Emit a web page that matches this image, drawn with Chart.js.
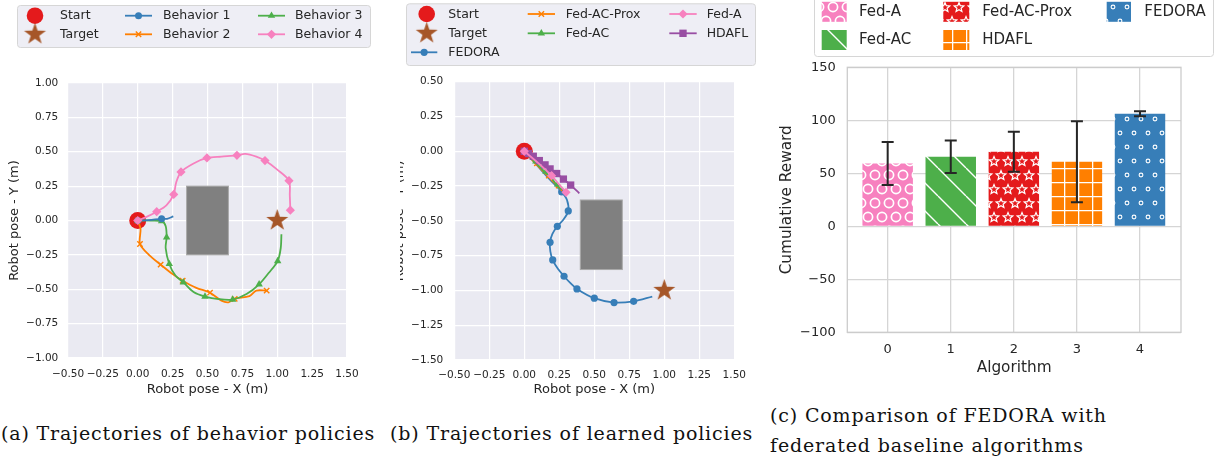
<!DOCTYPE html>
<html lang="en">
<head>
<meta charset="UTF-8">
<title>FEDORA - trajectories and cumulative reward</title>
<script src="https://cdn.jsdelivr.net/npm/chart.js"></script>
<style>
    body {
        margin: 0;
        background: #fff;
        width: 1215px;
        height: 457px;
        position: relative;
        overflow: hidden;
    }
    .panel { position: absolute; top: 0; }
    .caption {
        position: absolute;
        font-family: "DejaVu Serif", serif;
        font-size: 19px;
        line-height: 30px;
        letter-spacing: 0.85px;
        color: #111;
        white-space: nowrap;
    }
</style>
</head>
<body>

<div class="panel" style="left:0"><canvas id="chartA" width="380" height="400"></canvas></div>
<div class="panel" style="left:400px"><canvas id="chartB" width="370" height="400"></canvas></div>
<div class="panel" style="left:770px"><canvas id="chartC" width="445" height="400"></canvas></div>

<div class="caption" style="left:1px; top:418px">(a) Trajectories of behavior policies</div>
<div class="caption" style="left:390px; top:418px">(b) Trajectories of learned policies</div>
<div class="caption" style="left:770px; top:400px">(c) Comparison of FEDORA with<br>federated baseline algorithms</div>

<script>
    // ---- (a) behaviour policies: [x, y, hasMarker] ----
    const startPos = [0, 0];
    const targetA = [1, 0];
    const obstacleA = [0.35, 0.65, -0.25, 0.25];   // x0, x1, y0, y1
    const behavior1 = [[0, 0, 1], [0.08, 0.003, 0], [0.171, 0.012, 1], [0.21, 0.012, 0], [0.255, 0.03, 0]];
    const behavior2 = [[0, 0, 1], [0.02, -0.06, 0], [0.016, -0.171, 1], [0.08, -0.25, 0], [0.164, -0.321, 1],
        [0.25, -0.39, 0], [0.322, -0.438, 1], [0.42, -0.49, 0], [0.518, -0.525, 1], [0.6, -0.583, 0],
        [0.65, -0.595, 0], [0.695, -0.57, 1], [0.8, -0.55, 0], [0.85, -0.51, 0], [0.924, -0.51, 1]];
    const behavior3 = [[0, 0, 1], [0.09, 0, 0], [0.171, -0.005, 1], [0.2, -0.04, 0], [0.207, -0.122, 1],
        [0.2, -0.2, 0], [0.226, -0.316, 1], [0.27, -0.4, 0], [0.327, -0.45, 1], [0.4, -0.52, 0],
        [0.482, -0.553, 1], [0.58, -0.572, 0], [0.68, -0.575, 1], [0.78, -0.535, 0], [0.87, -0.464, 1],
        [0.94, -0.38, 0], [1.003, -0.295, 1], [1.025, -0.2, 0], [1.03, -0.1, 0]];
    const behavior4 = [[0, 0, 1], [0.07, 0.03, 0], [0.136, 0.064, 1], [0.205, 0.11, 0], [0.258, 0.19, 1],
        [0.275, 0.275, 0], [0.31, 0.353, 1], [0.4, 0.415, 0], [0.496, 0.455, 1], [0.6, 0.465, 0],
        [0.711, 0.474, 1], [0.77, 0.485, 0], [0.85, 0.465, 0], [0.912, 0.436, 1], [1.0, 0.37, 0],
        [1.084, 0.29, 1], [1.09, 0.18, 0], [1.094, 0.075, 1]];

    // ---- (b) learned policies ----
    const targetB = [1, -1];
    const obstacleB = [0.4, 0.7, -0.85, -0.35];
    const fedora = [[0, 0, 1], [0.09, -0.1, 0], [0.18, -0.2, 0], [0.267, -0.292, 1], [0.305, -0.35, 0],
        [0.314, -0.429, 1], [0.28, -0.49, 0], [0.236, -0.539, 1], [0.2, -0.595, 0], [0.184, -0.654, 1],
        [0.186, -0.72, 0], [0.203, -0.781, 1], [0.24, -0.845, 0], [0.284, -0.898, 1], [0.33, -0.948, 0],
        [0.376, -0.989, 1], [0.5, -1.056, 1], [0.641, -1.087, 1], [0.781, -1.078, 1], [0.914, -1.044, 0]];
    const fedACProx = [[0, 0, 1], [0.085, -0.092, 1], [0.17, -0.18, 1], [0.24, -0.252, 1], [0.27, -0.285, 0]];
    const fedAC = [[0, 0, 1], [0.076, -0.077, 1], [0.148, -0.15, 1], [0.2, -0.2, 0], [0.231, -0.242, 1], [0.265, -0.275, 0]];
    const fedA = [[0, 0, 1], [0.1, -0.085, 0], [0.195, -0.175, 1], [0.25, -0.24, 0], [0.298, -0.295, 1]];
    const hdafl = [[0, 0, 1], [0.03, -0.016, 1], [0.064, -0.036, 1], [0.107, -0.067, 1], [0.148, -0.098, 1],
        [0.184, -0.127, 1], [0.231, -0.16, 1], [0.279, -0.2, 1], [0.331, -0.243, 1], [0.393, -0.302, 0]];

    // ---- (c) cumulative reward ----
    const algorithms = ['Fed-A', 'Fed-AC', 'Fed-AC-Prox', 'HDAFL', 'FEDORA'];
    const algoIndex = [0, 1, 2, 3, 4];
    const rewardMean = [59.2, 65.6, 70.3, 61.0, 106.2];
    const rewardErr = [20.3, 15.4, 18.9, 38.2, 2.4];

    const RED = '#e41a1c', BLUE = '#377eb8', GREEN = '#4daf4a', PURPLE = '#984ea3',
          ORANGE = '#ff7f00', PINK = '#f781bf', BROWN = '#a65628', TEXT = '#262626';
    const FONT = '"DejaVu Sans", sans-serif';

    Chart.defaults.font.family = FONT;
    Chart.defaults.color = TEXT;

    // filled five-point star, used as a point style
    function starPath(g, x, y, r, inner) {
        g.beginPath();
        for (let i = 0; i < 10; i++) {
            const a = -Math.PI / 2 + i * Math.PI / 5;
            const rr = i % 2 ? inner : r;
            g.lineTo(x + rr * Math.cos(a), y + rr * Math.sin(a));
        }
        g.closePath();
    }
    function starImage(r, color) {
        const c = document.createElement('canvas');
        c.width = c.height = Math.ceil(2 * r + 2);
        const g = c.getContext('2d');
        g.fillStyle = color;
        starPath(g, c.width / 2, c.height / 2, r, r * 0.39);
        g.fill();
        return c;
    }
    const STAR = starImage(11.5, BROWN);

    function drawMarker(ctx, style, x, y, r, color) {
        ctx.save();
        ctx.fillStyle = color;
        ctx.strokeStyle = color;
        ctx.beginPath();
        if (style === 'circle') {
            ctx.arc(x, y, r, 0, Math.PI * 2);
            ctx.fill();
        } else if (style === 'rectRot') {
            ctx.moveTo(x, y - r); ctx.lineTo(x + r, y); ctx.lineTo(x, y + r); ctx.lineTo(x - r, y);
            ctx.closePath(); ctx.fill();
        } else if (style === 'rect') {
            const s = r * Math.SQRT1_2;
            ctx.rect(x - s, y - s, 2 * s, 2 * s); ctx.fill();
        } else if (style === 'triangle') {
            for (let i = 0; i < 3; i++) {
                const a = -Math.PI / 2 + i * 2 * Math.PI / 3;
                ctx.lineTo(x + r * Math.cos(a), y + r * Math.sin(a));
            }
            ctx.closePath(); ctx.fill();
        } else if (style === 'crossRot') {
            const s = r * Math.SQRT1_2;
            ctx.lineWidth = 1.4;
            ctx.moveTo(x - s, y - s); ctx.lineTo(x + s, y + s);
            ctx.moveTo(x + s, y - s); ctx.lineTo(x - s, y + s);
            ctx.stroke();
        } else if (style instanceof HTMLCanvasElement) {
            ctx.drawImage(style, x - style.width / 2, y - style.height / 2);
        }
        ctx.restore();
    }

    // hatch patterns for the bars
    function hatch(color, kind) {
        const u = 14;
        const c = document.createElement('canvas');
        const g = c.getContext('2d');
        c.width = kind === 'diag' ? 2 * u : u;
        c.height = kind === 'grid' ? u : 2 * u;
        g.fillStyle = color;
        g.fillRect(0, 0, c.width, c.height);
        g.strokeStyle = '#fff';
        const spots = [[u / 2, u / 2], [0, 1.5 * u], [u, 1.5 * u]];
        if (kind === 'circles' || kind === 'dots') {
            g.lineWidth = kind === 'circles' ? 1.7 : 1.1;
            spots.forEach(([x, y]) => { g.beginPath(); g.arc(x, y, kind === 'circles' ? 4.6 : 1.9, 0, Math.PI * 2); g.stroke(); });
        } else if (kind === 'stars') {
            g.lineWidth = 1.2;
            spots.forEach(([x, y]) => { starPath(g, x, y + 0.5, 5, 2.2); g.stroke(); });
        } else if (kind === 'grid') {
            g.lineWidth = 1.6;
            g.beginPath(); g.moveTo(0.5, 0); g.lineTo(0.5, u); g.moveTo(0, 0.5); g.lineTo(u, 0.5); g.stroke();
        } else if (kind === 'diag') {
            g.lineWidth = 1.4;
            g.beginPath();
            [-2 * u, 0, 2 * u].forEach(k => { g.moveTo(k, 0); g.lineTo(k + 2 * u, 2 * u); });
            g.stroke();
        }
        return g.createPattern(c, 'repeat');
    }
    const barFills = [hatch(PINK, 'circles'), hatch(GREEN, 'diag'), hatch(RED, 'stars'), hatch(ORANGE, 'grid'), hatch(BLUE, 'dots')];

    // ---- plugins ----
    const panelBg = {
        id: 'panelBg',
        beforeDraw(chart, args, o) {
            if (!o.color) return;
            const a = chart.chartArea, ctx = chart.ctx;
            ctx.save();
            ctx.fillStyle = o.color;
            ctx.fillRect(a.left, a.top, a.right - a.left, a.bottom - a.top);
            ctx.restore();
        }
    };

    const obstacle = {
        id: 'obstacle',
        beforeDatasetsDraw(chart, args, o) {
            if (!o.rect) return;
            const {x, y} = chart.scales, ctx = chart.ctx;
            const x0 = x.getPixelForValue(o.rect[0]), x1 = x.getPixelForValue(o.rect[1]);
            const y0 = y.getPixelForValue(o.rect[2]), y1 = y.getPixelForValue(o.rect[3]);
            ctx.save();
            ctx.fillStyle = '#808080';
            ctx.strokeStyle = '#a9a9a9';
            ctx.lineWidth = 1;
            ctx.fillRect(x0, y1, x1 - x0, y0 - y1);
            ctx.strokeRect(x0, y1, x1 - x0, y0 - y1);
            ctx.restore();
        }
    };

    const frame = {
        id: 'frame',
        beforeDatasetsDraw(chart, args, o) {
            if (!o.color) return;
            const a = chart.chartArea, ctx = chart.ctx;
            ctx.save();
            ctx.strokeStyle = o.color;
            ctx.lineWidth = 1.3;
            ctx.strokeRect(a.left, a.top, a.right - a.left, a.bottom - a.top);
            ctx.restore();
        }
    };

    const errorBars = {
        id: 'errorBars',
        afterDatasetsDraw(chart) {
            const {x, y} = chart.scales, ctx = chart.ctx;
            ctx.save();
            ctx.strokeStyle = '#262626';
            ctx.lineWidth = 2;
            algoIndex.forEach((i) => {
                const px = x.getPixelForValue(i);
                const top = y.getPixelForValue(rewardMean[i] + rewardErr[i]);
                const bot = y.getPixelForValue(rewardMean[i] - rewardErr[i]);
                ctx.beginPath();
                ctx.moveTo(px, top); ctx.lineTo(px, bot);
                ctx.moveTo(px - 6, top); ctx.lineTo(px + 6, top);
                ctx.moveTo(px - 6, bot); ctx.lineTo(px + 6, bot);
                ctx.stroke();
            });
            ctx.restore();
        }
    };

    // matplotlib-looking legend box
    const mplLegend = {
        id: 'mplLegend',
        afterDraw(chart, args, o) {
            if (!o.box) return;
            const ctx = chart.ctx, b = o.box;
            ctx.save();
            ctx.beginPath();
            ctx.roundRect(b[0] + 0.5, b[1] + 0.5, b[2], b[3], 3);
            ctx.fillStyle = o.bg;
            ctx.fill();
            ctx.strokeStyle = o.edge;
            ctx.lineWidth = 1;
            ctx.stroke();
            ctx.font = o.fontSize + 'px ' + FONT;
            ctx.textBaseline = 'middle';
            o.items.forEach(it => {
                if (it.line) {
                    ctx.strokeStyle = it.color;
                    ctx.lineWidth = 1.8;
                    ctx.beginPath();
                    ctx.moveTo(it.line[0], it.y); ctx.lineTo(it.line[1], it.y);
                    ctx.stroke();
                    drawMarker(ctx, it.style, (it.line[0] + it.line[1]) / 2, it.y, it.r, it.color);
                } else if (it.patch) {
                    ctx.fillStyle = it.patch;
                    ctx.fillRect(it.hx, it.y - 10, it.hw, 20);
                } else {
                    drawMarker(ctx, it.style, it.hx, it.y, it.r, it.color);
                }
                ctx.fillStyle = TEXT;
                ctx.fillText(it.label, it.tx, it.y + 0.5);
            });
            ctx.restore();
        }
    };

    // ---- helpers for the trajectory panels ----
    const toPts = arr => arr.map(p => ({x: p[0], y: p[1], m: p[2]}));

    function path(label, arr, color, style, r, order) {
        return {
            label, order, data: toPts(arr), showLine: true, tension: 0.3,
            borderColor: color, backgroundColor: color, borderWidth: 1.8,
            pointStyle: style,
            pointRadius: c => (c.raw && c.raw.m ? r : 0),
            pointBorderWidth: style === 'crossRot' ? 1.4 : 0,
            pointHoverRadius: 0, clip: false
        };
    }
    function spot(label, p, color, style, r, order) {
        return {
            label, order, data: [{x: p[0], y: p[1]}], showLine: false,
            pointStyle: style, pointRadius: r, backgroundColor: color, borderColor: color,
            pointBorderWidth: 0, pointHoverRadius: 0, clip: false
        };
    }

    const fmt2 = v => {
        const a = Math.abs(v) < 1e-9 ? 0 : v;
        return (a < 0 ? '\u2212' : '') + Math.abs(a).toFixed(2);
    };

    function trajAxes(yMin, yMax, l) {
        return {
            x: {
                type: 'linear', min: -0.5, max: 1.5,
                afterFit: s => { s.height = l.xh; },
                ticks: {stepSize: 0.25, callback: fmt2, autoSkip: false, maxRotation: 0,
                        padding: l.xpad, font: {size: 10.5}, color: TEXT},
                grid: {color: '#fff', lineWidth: 1.2, drawTicks: false},
                border: {display: false},
                title: {display: true, text: 'Robot pose - X (m)', font: {size: 13}, color: TEXT,
                        padding: {top: 0, bottom: l.xtitle}}
            },
            y: {
                type: 'linear', min: yMin, max: yMax,
                afterFit: s => { s.width = l.yw; },
                ticks: {stepSize: 0.25, callback: fmt2, autoSkip: false,
                        padding: l.ypad, font: {size: 10.5}, color: TEXT},
                grid: {color: '#fff', lineWidth: 1.2, drawTicks: false},
                border: {display: false},
                title: {display: true, text: 'Robot pose - Y (m)', font: {size: 13}, color: TEXT,
                        padding: {top: l.ytitle, bottom: 0}}
            }
        };
    }

    // ---- chart (a) ----
    new Chart(document.getElementById('chartA'), {
        type: 'scatter',
        data: {
            datasets: [
                spot('Start', startPos, RED, 'circle', 8.5, 10),
                path('Behavior 2', behavior2, ORANGE, 'crossRot', 3.8, 6),
                path('Behavior 3', behavior3, GREEN, 'triangle', 4.3, 5),
                path('Behavior 1', behavior1, BLUE, 'circle', 3.5, 4),
                path('Behavior 4', behavior4, PINK, 'rectRot', 4.6, 3),
                spot('Target', targetA, BROWN, STAR, 11, 1)
            ]
        },
        options: {
            responsive: false, animation: false, devicePixelRatio: 1,
            layout: {padding: {top: 83, right: 33, left: 0, bottom: 0}},
            plugins: {
                legend: {display: false}, tooltip: {enabled: false},
                panelBg: {color: '#eaeaf2'},
                obstacle: {rect: obstacleA},
                mplLegend: {
                    box: [17, 5, 353, 42], bg: '#eeeef5', edge: '#d6d6d6', fontSize: 12.5,
                    items: [
                        {label: 'Start', style: 'circle', color: RED, r: 8.3, hx: 35, y: 15.7, tx: 60},
                        {label: 'Target', style: STAR, color: BROWN, hx: 35, y: 34.3, tx: 60},
                        {label: 'Behavior 1', style: 'circle', color: BLUE, r: 3.5, line: [125, 152], y: 15.7, tx: 163},
                        {label: 'Behavior 2', style: 'crossRot', color: ORANGE, r: 3.8, line: [125, 152], y: 34.3, tx: 163},
                        {label: 'Behavior 3', style: 'triangle', color: GREEN, r: 4.3, line: [258, 285], y: 15.7, tx: 295},
                        {label: 'Behavior 4', style: 'rectRot', color: PINK, r: 4.6, line: [258, 285], y: 34.3, tx: 295}
                    ]
                }
            },
            scales: trajAxes(-1, 1, {xh: 42, yw: 68, xpad: 9.5, ypad: 9.7, xtitle: 2.9, ytitle: 7.2})
        },
        plugins: [panelBg, obstacle, mplLegend]
    });

    // ---- chart (b) ----
    new Chart(document.getElementById('chartB'), {
        type: 'scatter',
        data: {
            datasets: [
                spot('Start', startPos, RED, 'circle', 8.5, 10),
                path('FEDORA', fedora, BLUE, 'circle', 3.6, 6),
                path('Fed-AC-Prox', fedACProx, ORANGE, 'crossRot', 2.8, 5),
                path('Fed-AC', fedAC, GREEN, 'triangle', 3.2, 4),
                path('HDAFL', hdafl, PURPLE, 'rect', 5.2, 3),
                path('Fed-A', fedA, PINK, 'rectRot', 4.6, 2),
                spot('Target', targetB, BROWN, STAR, 11, 1)
            ]
        },
        options: {
            responsive: false, animation: false, devicePixelRatio: 1,
            layout: {padding: {top: 81.7, right: 35.7, left: 0, bottom: 0}},
            plugins: {
                legend: {display: false}, tooltip: {enabled: false},
                panelBg: {color: '#eaeaf2'},
                obstacle: {rect: obstacleB},
                mplLegend: {
                    box: [6, 3.3, 349, 61.7], bg: '#eeeef5', edge: '#d6d6d6', fontSize: 12.5,
                    items: [
                        {label: 'Start', style: 'circle', color: RED, r: 8.3, hx: 26.7, y: 14, tx: 48.3},
                        {label: 'Target', style: STAR, color: BROWN, hx: 26.7, y: 33.3, tx: 48.3},
                        {label: 'FEDORA', style: 'circle', color: BLUE, r: 3.6, line: [11, 37.3], y: 52.3, tx: 48.3},
                        {label: 'Fed-AC-Prox', style: 'crossRot', color: ORANGE, r: 3.8, line: [127.7, 155], y: 14, tx: 165.7},
                        {label: 'Fed-AC', style: 'triangle', color: GREEN, r: 4.3, line: [127.7, 155], y: 33.3, tx: 165.7},
                        {label: 'Fed-A', style: 'rectRot', color: PINK, r: 4.6, line: [269.3, 296.7], y: 14, tx: 306.7},
                        {label: 'HDAFL', style: 'rect', color: PURPLE, r: 5.2, line: [269.3, 296.7], y: 33.3, tx: 306.7}
                    ]
                }
            },
            scales: trajAxes(-1.5, 0.5, {xh: 40, yw: 54.3, xpad: 8.7, ypad: 11, xtitle: 2.2, ytitle: -7.8})
        },
        plugins: [panelBg, obstacle, mplLegend]
    });

    // ---- chart (c) ----
    new Chart(document.getElementById('chartC'), {
        type: 'bar',
        data: {
            datasets: [{
                label: 'Cumulative Reward',
                data: algoIndex.map(i => ({x: i, y: rewardMean[i]})),
                backgroundColor: barFills,
                borderWidth: 0,
                categoryPercentage: 1,
                barPercentage: 0.8
            }]
        },
        options: {
            responsive: false, animation: false, devicePixelRatio: 1,
            layout: {padding: {top: 67.3, right: 34, left: 0, bottom: 0}},
            plugins: {
                legend: {display: false}, tooltip: {enabled: false},
                frame: {color: '#cccccc'},
                mplLegend: {
                    box: [44, -6, 399, 62], bg: '#ffffff', edge: '#d6d6d6', fontSize: 15,
                    items: [
                        {label: algorithms[0], patch: barFills[0], hx: 51.7, hw: 25, y: 11.8, tx: 89},
                        {label: algorithms[1], patch: barFills[1], hx: 51.7, hw: 25, y: 40, tx: 89},
                        {label: algorithms[2], patch: barFills[2], hx: 173.3, hw: 26, y: 11.8, tx: 212.3},
                        {label: algorithms[3], patch: barFills[3], hx: 173.3, hw: 26, y: 40, tx: 212.3},
                        {label: algorithms[4], patch: barFills[4], hx: 336.7, hw: 24.3, y: 11.8, tx: 374.3}
                    ]
                }
            },
            scales: {
                x: {
                    type: 'linear', min: -0.64, max: 4.65, offset: false,
                    afterFit: s => { s.height = 67.7; },
                    afterBuildTicks: s => { s.ticks = algoIndex.map(v => ({value: v})); },
                    ticks: {autoSkip: false, maxRotation: 0, padding: 9.2, font: {size: 13}, color: TEXT},
                    grid: {color: '#d5d5d5', lineWidth: 1.3, drawTicks: false, offset: false},
                    border: {display: false},
                    title: {display: true, text: 'Algorithm', font: {size: 15.3}, color: TEXT,
                            padding: {top: 0, bottom: 22.5}}
                },
                y: {
                    type: 'linear', min: -100, max: 150,
                    afterFit: s => { s.width = 77.3; },
                    ticks: {stepSize: 50, padding: 11.6, font: {size: 13}, color: TEXT,
                            callback: v => (v < 0 ? '\u2212' + (-v) : String(v))},
                    grid: {color: '#d5d5d5', lineWidth: 1.3, drawTicks: false},
                    border: {display: false},
                    title: {display: true, text: 'Cumulative Reward', font: {size: 15.3}, color: TEXT,
                            padding: {top: 7.5, bottom: 0}}
                }
            }
        },
        plugins: [frame, errorBars, mplLegend]
    });
</script>

</body>
</html>
